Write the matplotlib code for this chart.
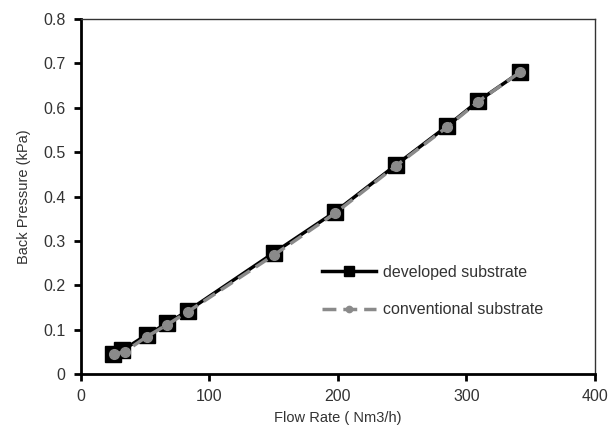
import matplotlib
matplotlib.use("Agg")
import matplotlib.pyplot as plt

plt.rcParams["font.family"] = ["Liberation Sans", "DejaVu Sans"]

# developed substrate
flow_dev = [25, 32, 51, 67, 83, 150, 198, 245, 285, 309, 342]
bp_dev = [0.046, 0.053, 0.088, 0.114, 0.142, 0.273, 0.366, 0.471, 0.559, 0.615, 0.681]

# conventional substrate
flow_conv = [26, 34, 51, 67, 83, 150, 198, 245, 285, 309, 342]
bp_conv = [0.045, 0.050, 0.084, 0.111, 0.140, 0.268, 0.363, 0.469, 0.557, 0.614, 0.681]

xticks = [0, 100, 200, 300, 400]
yticks = [0, 0.1, 0.2, 0.3, 0.4, 0.5, 0.6, 0.7, 0.8]

fig = plt.figure(figsize=(6.09, 4.25), dpi=100)
ax = fig.add_axes([0.133, 0.12, 0.844, 0.835])

ax.plot(flow_dev, bp_dev, color="black", lw=2.5, marker="s", ms=12,
        mfc="black", mec="black", label="developed substrate", zorder=3)
ax.plot(flow_conv, bp_conv, color="#8a8a8a", lw=2.5, ls=(0, (4, 2)), marker="o", ms=7,
        mfc="#8a8a8a", mec="#8a8a8a", label="conventional substrate", zorder=4)

ax.set_xlim(0, 400)
ax.set_ylim(0, 0.8)
ax.set_xticks(xticks)
ax.set_yticks(yticks)
ax.set_yticklabels([f"{v:.1f}" if v else "0" for v in yticks])

for s in ["left", "bottom"]:
    ax.spines[s].set_linewidth(2)
    ax.spines[s].set_color("black")
for s in ["top", "right"]:
    ax.spines[s].set_linewidth(1)
    ax.spines[s].set_color("#333333")

ax.tick_params(direction="out", length=5, width=2, labelsize=11.5, colors="black",
               labelcolor="#333333", pad=6)

ax.set_xlabel("Flow Rate ( Nm3/h)", fontsize=10.5, color="#333333", labelpad=5)
ax.set_ylabel("Back Pressure (kPa)", fontsize=10.5, color="#333333", labelpad=9)

ax.legend(loc="upper left", bbox_to_anchor=(0.453, 0.33), frameon=False,
          fontsize=11.5, handlelength=3.4, handletextpad=0.4, labelspacing=1.4,
          borderpad=0, labelcolor="#333333", markerscale=0.65)

fig.savefig("out.png", dpi=100)
